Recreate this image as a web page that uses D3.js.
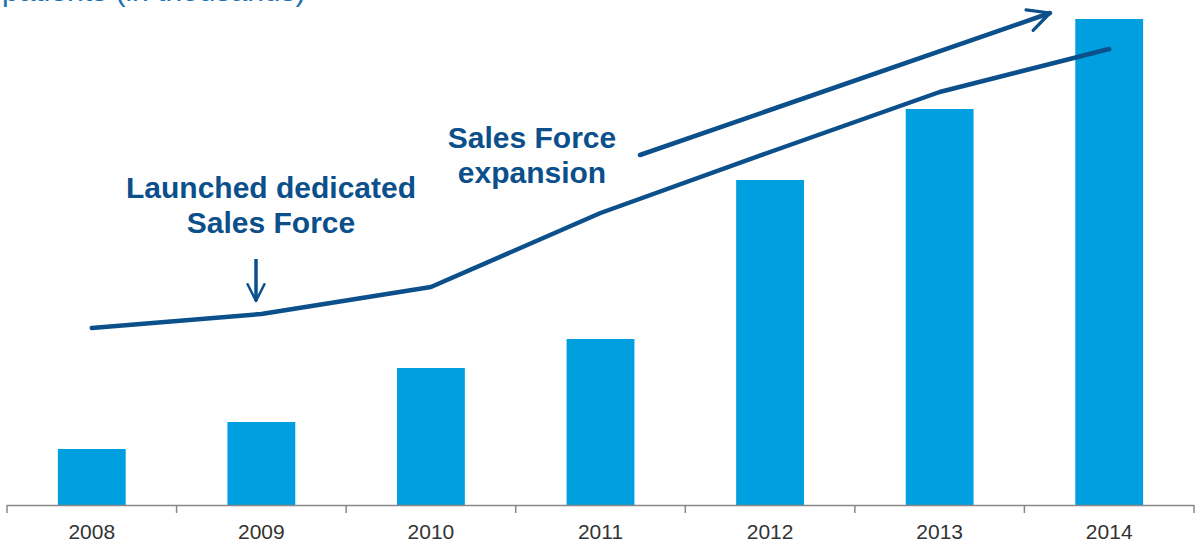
<!DOCTYPE html>
<html>
<head>
<meta charset="utf-8">
<script src="https://cdn.jsdelivr.net/npm/d3@7/dist/d3.min.js"></script>
<style>
  html, body { margin: 0; padding: 0; background: #fff; overflow: hidden; }
  svg { display: block; }
</style>
</head>
<body>
<svg id="chart" width="1197" height="547"></svg>
<script>
const years = ["2008", "2009", "2010", "2011", "2012", "2013", "2014"];
const barValues = [56, 83, 137, 166, 325, 396, 486];
const trendValues = [177, 191, 218, 292, 353, 413, 456];
const titleText = "patients (in thousands)";
const note1 = ["Launched dedicated", "Sales Force"];
const note2 = ["Sales Force", "expansion"];

const svg = d3.select("#chart");
const blue = "#009fdf", dark = "#0b4f8b";
const font = "'Liberation Sans', Arial, sans-serif";

const x = d3.scaleBand().domain(years).range([7, 1194]).paddingInner(0.6).paddingOuter(0.3);
const y = d3.scaleLinear().domain([0, 500]).range([505, 5]);

// title (cut off at top, as in the reference)
svg.append("text").attr("x", 2).attr("y", 1)
  .attr("font-family", font).attr("font-size", 30).attr("fill", "#1a6fb0")
  .text(titleText);

// bars
svg.append("g").selectAll("rect").data(years).join("rect")
  .attr("x", d => x(d))
  .attr("width", x.bandwidth())
  .attr("y", (d, i) => y(barValues[i]))
  .attr("height", (d, i) => y(0) - y(barValues[i]))
  .attr("fill", blue);

// axis
const axisG = svg.append("g");
axisG.append("line").attr("x1", 7).attr("x2", 1194).attr("y1", 505.5).attr("y2", 505.5)
  .attr("stroke", "#888").attr("stroke-width", 1.5);
const tickXs = d3.range(years.length + 1).map(i => 7 + i * (1187 / years.length));
axisG.selectAll("line.tick").data(tickXs).join("line").attr("class", "tick")
  .attr("x1", d => d).attr("x2", d => d).attr("y1", 505).attr("y2", 513)
  .attr("stroke", "#888").attr("stroke-width", 1.5);
axisG.selectAll("text").data(years).join("text")
  .attr("x", d => x(d) + x.bandwidth() / 2)
  .attr("y", 539)
  .attr("text-anchor", "middle")
  .attr("font-family", font).attr("font-size", 21).attr("fill", "#333")
  .text(d => d);

// trend line
const line = d3.line()
  .x((d, i) => x(years[i]) + x.bandwidth() / 2)
  .y(d => y(d));
svg.append("path").datum(trendValues)
  .attr("d", line)
  .attr("fill", "none").attr("stroke", dark).attr("stroke-width", 4.5)
  .attr("stroke-linecap", "round").attr("stroke-linejoin", "round");

// arrow marker
const defs = svg.append("defs");
defs.append("marker").attr("id", "chev")
  .attr("viewBox", "0 0 10 10").attr("refX", 9).attr("refY", 5)
  .attr("markerWidth", 6).attr("markerHeight", 6).attr("markerUnits", "strokeWidth")
  .attr("orient", "auto")
  .append("path").attr("d", "M1,1 L9,5 L1,9")
  .attr("fill", "none").attr("stroke", dark).attr("stroke-width", 1.2)
  .attr("stroke-linecap", "round").attr("stroke-linejoin", "round");

// expansion arrow
svg.append("line")
  .attr("x1", 640).attr("y1", 155).attr("x2", 1050).attr("y2", 13)
  .attr("stroke", dark).attr("stroke-width", 4.5).attr("stroke-linecap", "round")
  .attr("marker-end", "url(#chev)");

// down arrow
svg.append("line")
  .attr("x1", 256).attr("y1", 259).attr("x2", 256).attr("y2", 301)
  .attr("stroke", dark).attr("stroke-width", 3.5)
  .attr("marker-end", "url(#chev)");

// notes
function note(lines, cx, y0, lh) {
  svg.append("text").attr("font-family", font).attr("font-size", 30)
    .attr("font-weight", "bold").attr("fill", dark).attr("text-anchor", "middle")
    .selectAll("tspan").data(lines).join("tspan")
    .attr("x", cx).attr("y", (d, i) => y0 + i * lh).text(d => d);
}
note(note1, 271, 198, 35);
note(note2, 532, 148, 35);
</script>
</body>
</html>
